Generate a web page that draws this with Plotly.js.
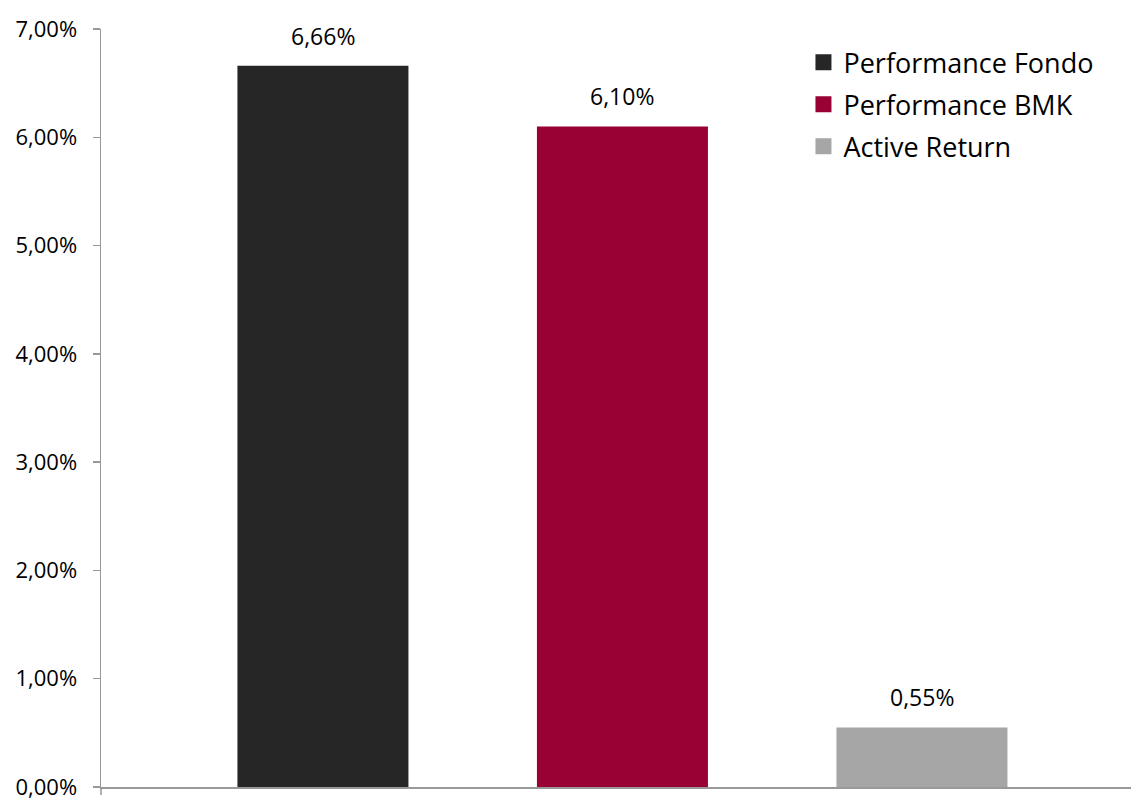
<!DOCTYPE html>
<html>
<head>
<meta charset="utf-8">
<script src="https://cdn.plot.ly/plotly-3.0.1.min.js"></script>
<style>html,body{margin:0;padding:0;background:#fff;}#chart{width:1131px;height:798px;}</style>
</head>
<body>
<div id="chart"></div>
<script>
var categories = ["Performance Fondo", "Performance BMK", "Active Return"];
var values = [6.66, 6.10, 0.55];
var colors = ["#262626", "#990033", "#a6a6a6"];
var yTicks = [0, 1, 2, 3, 4, 5, 6, 7];

function fmt(v) { return v.toFixed(2).replace('.', ',') + '%'; }

var traces = [];
categories.forEach(function (c, i) {
  traces.push({
    type: 'bar', x: [c], y: [values[i]], name: c,
    marker: { color: colors[i] }, width: 0.571,
    showlegend: false, hoverinfo: 'none'
  });
});
categories.forEach(function (c, i) {
  traces.push({
    type: 'scatter', mode: 'markers', x: [c], y: [null], name: c,
    legendgroup: 'g' + i,
    marker: { symbol: 'square', size: 16, color: colors[i] },
    showlegend: true, hoverinfo: 'none'
  });
});

var annotations = categories.map(function (c, i) {
  return {
    x: c, y: values[i], xref: 'x', yref: 'y', text: fmt(values[i]),
    showarrow: false, yanchor: 'bottom', yshift: 12,
    font: { family: 'Open Sans, sans-serif', size: 23, color: '#000' }
  };
});

var layout = {
  width: 1131, height: 798,
  margin: { l: 101, r: 0, t: 29, b: 11 },
  paper_bgcolor: '#fff', plot_bgcolor: '#fff',
  font: { family: 'Open Sans, sans-serif', color: '#000' },
  barmode: 'overlay',
  separators: ',.',
  xaxis: {
    type: 'category', categoryorder: 'array', categoryarray: categories,
    range: [-0.741, 2.698], showticklabels: false, ticks: '',
    showgrid: false, zeroline: false,
    showline: true, linecolor: '#999', linewidth: 1.5
  },
  yaxis: {
    range: [0, 7], tickvals: yTicks,
    ticktext: yTicks.map(fmt),
    ticks: 'outside', ticklen: 7, tickcolor: '#999', tickwidth: 1.5,
    ticklabelstandoff: 11, ticklabeloverflow: 'allow',
    showgrid: false, zeroline: false,
    showline: true, linecolor: '#999', linewidth: 1.5,
    tickfont: { family: 'Open Sans, sans-serif', size: 22, color: '#000' }
  },
  shapes: [{
    type: 'line', xref: 'paper', x0: 0, x1: 0,
    yref: 'paper', ysizemode: 'pixel', yanchor: 0, y0: 0, y1: -8,
    line: { color: '#999', width: 1.5 }
  }],
  showlegend: true,
  legend: {
    x: 0.682, y: 0.988, xanchor: 'left', yanchor: 'top',
    traceorder: 'grouped', tracegroupgap: 4,
    bgcolor: 'rgba(0,0,0,0)',
    font: { family: 'Open Sans, sans-serif', size: 27, color: '#000' },
    itemwidth: 30
  },
  annotations: annotations
};

Plotly.newPlot('chart', traces, layout, { staticPlot: true });
</script>
</body>
</html>
